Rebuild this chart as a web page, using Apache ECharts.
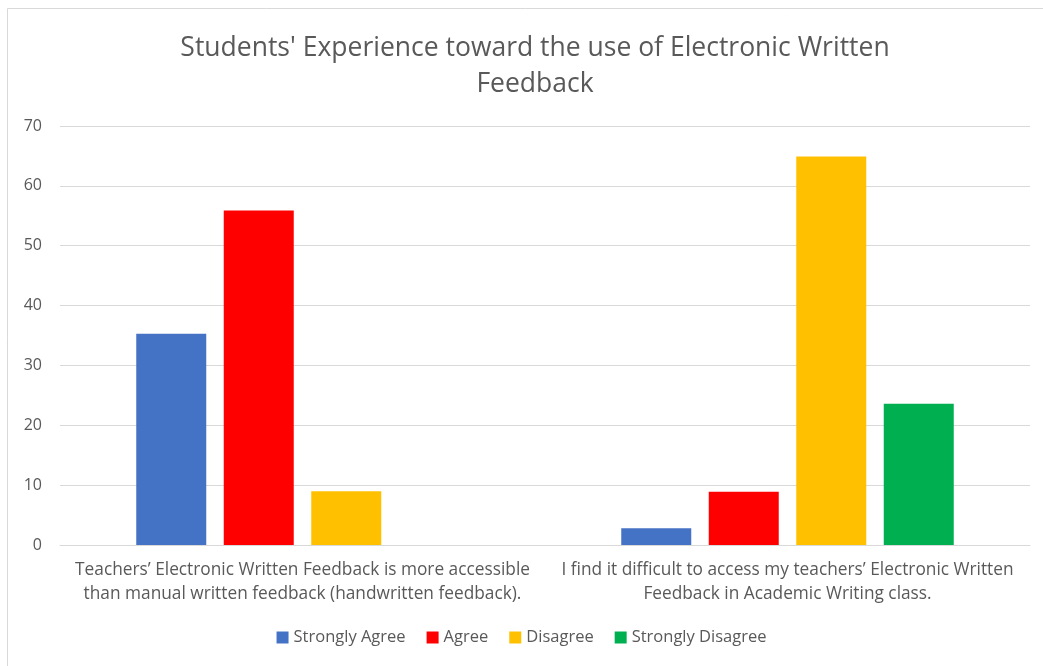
<!DOCTYPE html>
<html>
<head>
<meta charset="utf-8">
<script src="https://cdn.jsdelivr.net/npm/echarts@6/dist/echarts.min.js"></script>
<style>
html,body{margin:0;padding:0;background:#fff;}
#chart{width:1043px;height:666px;}
</style>
</head>
<body>
<div id="chart"></div>
<script>
const titleText = "Students' Experience toward the use of Electronic Written\nFeedback";
const categories = [
  "Teachers\u2019 Electronic Written Feedback is more accessible\nthan manual written feedback (handwritten feedback).",
  "I find it difficult to access my teachers\u2019 Electronic Written\nFeedback in Academic Writing class."
];
const seriesNames = ["Strongly Agree", "Agree", "Disagree", "Strongly Disagree"];
const stronglyAgree = [35.3, 2.8];
const agree = [55.9, 8.9];
const disagree = [9.0, 64.9];
const stronglyDisagree = [0, 23.6];
const colors = ["#4472C4", "#FF0000", "#FFC000", "#00B050"];
const yTicks = [0, 10, 20, 30, 40, 50, 60, 70];

const font = "'Open Sans', 'Noto Sans', sans-serif";
const values = [stronglyAgree, agree, disagree, stronglyDisagree];

const chart = echarts.init(document.getElementById('chart'), null, {renderer: 'canvas'});
chart.setOption({
  animation: false,
  backgroundColor: '#fff',
  color: colors,
  graphic: [{
    type: 'rect',
    shape: {x: 7.5, y: 8.5, width: 1100, height: 700},
    style: {fill: 'none', stroke: '#d9d9d9', lineWidth: 1},
    silent: true
  }],
  title: {
    text: titleText,
    left: 530,
    textAlign: 'center',
    top: 25,
    textStyle: {fontFamily: font, fontSize: 26.5, fontWeight: 'normal', color: '#595959', lineHeight: 36}
  },
  legend: {
    data: seriesNames,
    bottom: 15,
    left: 'center',
    itemWidth: 12,
    itemHeight: 12,
    itemGap: 21,
    icon: 'rect',
    textStyle: {fontFamily: font, fontSize: 16.5, color: '#595959'}
  },
  grid: {left: 60, right: 13, top: 126, bottom: 121, containLabel: false},
  xAxis: {
    type: 'category',
    data: categories,
    axisLine: {show: true, lineStyle: {color: '#d9d9d9', width: 1}},
    axisTick: {show: false},
    axisLabel: {fontFamily: font, fontSize: 17.3, color: '#595959', lineHeight: 24, margin: 13, interval: 0}
  },
  yAxis: {
    type: 'value',
    min: yTicks[0],
    max: yTicks[yTicks.length - 1],
    interval: 10,
    axisLine: {show: false},
    axisTick: {show: false},
    splitLine: {lineStyle: {color: '#d9d9d9', width: 1}},
    axisLabel: {fontFamily: font, fontSize: 16, color: '#595959', margin: 18}
  },
  series: seriesNames.map((n, i) => ({
    name: n,
    type: 'bar',
    data: values[i],
    barWidth: 70,
    barGap: '25%',
    itemStyle: {color: colors[i]}
  }))
});
</script>
</body>
</html>
